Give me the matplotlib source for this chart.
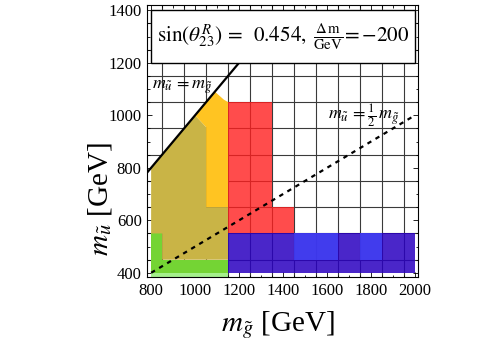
import numpy as np
import matplotlib
matplotlib.use('Agg')
import matplotlib.pyplot as plt
from matplotlib.patches import Polygon, Rectangle
from matplotlib.ticker import MultipleLocator

plt.rcParams['font.family'] = 'serif'
plt.rcParams['font.serif'] = ['Liberation Serif', 'DejaVu Serif']
plt.rcParams['mathtext.fontset'] = 'stix'

# excluded regions in the (m_gluino, m_squark) plane, GeV
khaki_x = [800, 800, 1000, 1050, 1050, 1150, 1150, 850, 850]
khaki_y = [550, 800, 1000, 955, 650, 650, 450, 450, 550]

yellow_x = [1000, 1090, 1130, 1150, 1150, 1050, 1050]
yellow_y = [1000, 1090, 1060, 1050, 650, 650, 955]

red_x = [1150, 1450, 1450, 1350, 1350, 1150]
red_y = [550, 550, 650, 650, 1050, 1050]

green_x = [800, 1150, 1150, 850, 850, 800]
green_y = [400, 400, 450, 450, 550, 550]

lightgreen_x = [800, 1150, 1150, 800]
lightgreen_y = [380, 380, 400, 400]

blue_x = [1150, 2000, 2000, 1150]
blue_y = [400, 400, 550, 550]

# lighter blue cells: (x0, x1) spans, all at y 450-550
lightblue_x = [(1450, 1650), (1750, 1850)]
lightblue_y = (450, 550)

# reference lines
equal_x = [770, 1200]
equal_y = [770, 1200]
half_x = [800, 2000]
half_y = [400, 1000]

sin_theta = 0.454
delta_m = -200

fig = plt.figure(figsize=(5, 3.5), dpi=100)
ax = fig.add_axes([0.293, 0.21, 0.5436, 0.7757])
ax.set_xlim(779, 2015)
ax.set_ylim(386, 1420)

# grid lines
for gx in np.arange(850, 2000, 100):
    ax.axvline(gx, color='#3a3a3a', lw=0.8, zorder=1)
for gy in np.arange(450, 1400, 100):
    ax.axhline(gy, color='#3a3a3a', lw=0.8, zorder=1)

def fill(xs, ys, color, alpha=1.0):
    ax.add_patch(Polygon(np.column_stack([xs, ys]), closed=True, facecolor=color,
                         edgecolor='none', alpha=alpha, zorder=2))

fill(lightgreen_x, lightgreen_y, '#a4f08c')
fill(green_x, green_y, '#74d434')
fill(khaki_x, khaki_y, '#c9b446')
fill(yellow_x, yellow_y, '#ffc422')
fill(red_x, red_y, '#ff1f1f', 0.8)
fill(blue_x, blue_y, '#2a00c0', 0.85)
for x0, x1 in lightblue_x:
    fill([x0, x1, x1, x0], [lightblue_y[0], lightblue_y[0], lightblue_y[1], lightblue_y[1]],
         '#4040f4', 0.85)

ax.plot(equal_x, equal_y, color='black', lw=1.6, zorder=4)
ax.plot(half_x, half_y, color='black', lw=1.6, ls=(0, (2, 2.2)), zorder=4)

ax.text(806, 1100, r'$m_{\tilde{u}}\,=m_{\tilde{g}}$', fontsize=13, va='baseline', zorder=5)
ax.text(1765, 1000, r'$m_{\tilde{u}}\,=\frac{1}{2}\,m_{\tilde{g}}$', fontsize=13,
        ha='center', va='center', zorder=5)

# parameter box
ax.add_patch(Rectangle((800, 1200), 1200, 200, facecolor='white', edgecolor='black',
                       lw=1.0, zorder=6))
ax.text(1400, 1300,
        r'$\sin(\theta^{R}_{23})\,=\;\;%.3f,\;\frac{\Delta\,\mathrm{m}}{\mathrm{GeV}}\!={-}%d$'
        % (sin_theta, abs(delta_m)),
        fontsize=15.2, ha='center', va='center', zorder=7)

ax.xaxis.set_major_locator(MultipleLocator(200))
ax.xaxis.set_minor_locator(MultipleLocator(50))
ax.yaxis.set_major_locator(MultipleLocator(200))
ax.yaxis.set_minor_locator(MultipleLocator(50))
ax.tick_params(which='both', direction='in', top=True, right=True, width=0.6, labelsize=12)
ax.tick_params(which='major', length=3.5)
ax.tick_params(which='minor', length=1.8)
ax.tick_params(axis='x', pad=5)
ax.tick_params(axis='y', pad=3.5)
for s in ax.spines.values():
    s.set_linewidth(0.8)
    s.set_zorder(8)

fig.text(0.556, 0.071, r'$m_{\tilde{g}}$ [GeV]', fontsize=21, ha='center', va='center')
fig.text(0.2, 0.431, r'$m_{\tilde{u}}$ [GeV]', fontsize=21, ha='center', va='center',
         rotation=90)

fig.savefig('out.png', dpi=100)
